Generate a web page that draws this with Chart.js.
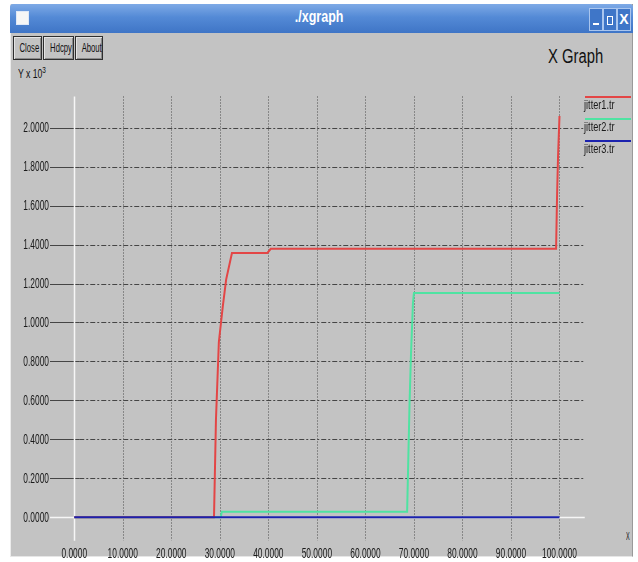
<!DOCTYPE html>
<html>
<head>
<meta charset="utf-8">
<title>./xgraph</title>
<script src="https://cdn.jsdelivr.net/npm/chart.js@4.4.1/dist/chart.umd.min.js"></script>
<style>
  html, body { margin: 0; padding: 0; width: 638px; height: 562px; overflow: hidden; background: #ffffff;
    font-family: "Liberation Sans", Arial, sans-serif; }
  .abs { position: absolute; }
  #win { left: 10px; top: 4px; width: 623px; height: 553px; background: #c3c3c3;
    border-left: 1px solid #ececec; border-right: 1px solid #9a9a9a; border-bottom: 1px solid #e6e6e6; box-sizing: border-box; }
  #titlebar { left: 10px; top: 4px; width: 623px; height: 29px; border-radius: 3px 3px 0 0;
    background: linear-gradient(#7eaae6, #548ad6 45%, #3f75c6); }
  #ticon { left: 16px; top: 11px; width: 11px; height: 12px; background: #f6f6f6; border: 1px solid #dfe8f6; }
  #ttext { left: 0; top: 8px; width: 638px; text-align: center; color: #ffffff; font-weight: bold; font-size: 16px; }
  #ttext span { display: inline-block; transform: scaleX(0.78); transform-origin: 50% 50%; }
  .wbtn { top: 8px; width: 12px; height: 21px; border: 1px solid #a9c5ee; background-color: #3f76c8; }
  .wbar { position: absolute; background-color: #ffffff; }
  .btn { top: 36px; height: 24px; box-sizing: border-box; border: 1px solid #2e2e2e;
    box-shadow: inset 1px 1px 0 #e4e4e4, inset -1px -1px 0 #8a8a8a; background: #c3c3c3;
    font-size: 12px; color: #111; text-align: center; line-height: 22px; overflow: hidden; }
  .btn span { display: inline-block; transform: scaleX(0.64); transform-origin: 50% 50%; }
  #gtitle { left: 548px; top: 45px; font-size: 20px; color: #111; white-space: nowrap; }
  #gtitle span { display: inline-block; transform: scaleX(0.74); transform-origin: 0 50%; }
  #ylab { left: 18px; top: 65px; font-size: 12px; color: #111; white-space: nowrap; }
  #ylab span { display: inline-block; transform: scaleX(0.72); transform-origin: 0 50%; }
  #xlab { left: 626px; top: 530px; font-size: 11px; color: #111; }
  #xlab span { display: inline-block; transform: scaleX(0.5); transform-origin: 0 50%; }
  #plot { left: 0; top: 0; }
</style>
</head>
<body>
<div id="win" class="abs"></div>
<div id="titlebar" class="abs"></div>
<div id="ticon" class="abs"></div>
<div id="ttext" class="abs"><span>./xgraph</span></div>
<!-- minimise / maximise / close -->
<div class="abs wbtn" style="left:589px"><div class="wbar" style="left:3px;top:14px;width:6px;height:2px"></div></div>
<div class="abs wbtn" style="left:603px"><div class="wbar" style="left:3px;top:7px;width:4px;height:7px;background:none;border:1px solid #fff"></div></div>
<div class="abs wbtn" style="left:617px;color:#fff;font:bold 14px 'Liberation Sans',Arial,sans-serif;text-align:center;line-height:21px">X</div>
<div class="abs btn" style="left:13px;width:29px"><span>Close</span></div>
<div class="abs btn" style="left:43px;width:31px"><span>Hdcpy</span></div>
<div class="abs btn" style="left:75px;width:28px"><span>About</span></div>
<div id="gtitle" class="abs"><span>X Graph</span></div>
<div id="ylab" class="abs"><span>Y x 10<sup style="font-size:9px">3</sup></span></div>
<div id="xlab" class="abs"><span>X</span></div>
<canvas id="plot" class="abs" width="638" height="562"></canvas>

<script>
// Axis tick values (x: simulation time, y: jitter in units of 10^3)
const xTicks = [0, 10, 20, 30, 40, 50, 60, 70, 80, 90, 100];
const yTicks = [0, 0.2, 0.4, 0.6, 0.8, 1.0, 1.2, 1.4, 1.6, 1.8, 2.0];

// Trace names
const seriesNames = ['jitter1.tr', 'jitter2.tr', 'jitter3.tr'];

// jitter1.tr
const jitter1Time  = [0, 28.8, 29.2, 29.8, 30.6, 31.3, 32.5, 39.8, 40.5, 99.3, 99.5, 99.7, 100.0];
const jitter1Value = [0, 0, 0.50, 0.90, 1.08, 1.22, 1.357, 1.357, 1.378, 1.378, 1.65, 1.85, 2.06];

// jitter2.tr
const jitter2Time  = [0, 30.2, 30.4, 68.6, 69.1, 69.4, 69.8, 70.0, 100.0];
const jitter2Value = [0, 0, 0.028, 0.028, 0.586, 0.84, 1.10, 1.152, 1.152];

// jitter3.tr
const jitter3Time  = [0, 100.0];
const jitter3Value = [0, 0];

const colors = ['#e34646', '#4fe3a2', '#1b22ae'];

function zip(xs, ys) { return xs.map((x, i) => ({ x: x, y: ys[i] })); }

function squish(ctx, text, x, y, align, sx) {
  ctx.save();
  ctx.translate(x, y);
  ctx.scale(sx, 1);
  ctx.textAlign = align;
  ctx.fillText(text, 0, 0);
  ctx.restore();
}

function seg(ctx, x1, y1, x2, y2) {
  ctx.beginPath(); ctx.moveTo(x1, y1); ctx.lineTo(x2, y2); ctx.stroke();
}

// xgraph-style grid, axes, tick labels and legend
const xgraphFrame = {
  id: 'xgraphFrame',
  beforeDatasetsDraw(chart) {
    const { ctx, chartArea: a, scales: { x, y } } = chart;
    const x0 = x.getPixelForValue(0);
    const y0 = y.getPixelForValue(0);
    ctx.save();
    ctx.lineWidth = 1;
    // horizontal grid lines
    y.ticks.forEach(t => {
      if (t.value === 0) return;
      const py = Math.round(y.getPixelForValue(t.value)) + 0.5;
      ctx.strokeStyle = '#454545';
      ctx.setLineDash([]);
      seg(ctx, a.left, py, x0 + 5, py);
      ctx.setLineDash([5, 2, 2, 2]);
      seg(ctx, x0 + 5, py, a.right, py);
    });
    // vertical grid lines
    ctx.strokeStyle = '#4a4a4a';
    ctx.setLineDash([1, 2]);
    x.ticks.forEach(t => {
      if (t.value === 0) return;
      const px = Math.round(x.getPixelForValue(t.value)) + 0.5;
      seg(ctx, px, a.top, px, a.bottom);
    });
    // zero axes
    ctx.setLineDash([]);
    ctx.strokeStyle = '#f6f6f6';
    ctx.lineWidth = 1.5;
    seg(ctx, Math.round(x0) + 0.5, a.top, Math.round(x0) + 0.5, a.bottom);
    seg(ctx, a.left, Math.round(y0) + 0.5, a.right + 1, Math.round(y0) + 0.5);
    ctx.restore();
  },
  afterDraw(chart) {
    const { ctx, chartArea: a, scales: { x, y } } = chart;
    ctx.save();
    ctx.fillStyle = '#1a1a1a';
    ctx.font = '14px "Liberation Sans", Arial, sans-serif';
    ctx.textBaseline = 'middle';
    y.ticks.forEach(t => {
      squish(ctx, t.value.toFixed(4), a.left - 1, y.getPixelForValue(t.value) + 0.5, 'right', 0.6);
    });
    ctx.textBaseline = 'top';
    x.ticks.forEach(t => {
      squish(ctx, t.value.toFixed(4), x.getPixelForValue(t.value), a.bottom + 6, 'center', 0.6);
    });
    // legend: coloured line above each trace name
    ctx.font = '13.5px "Liberation Sans", Arial, sans-serif';
    ctx.textBaseline = 'middle';
    chart.data.datasets.forEach((ds, i) => {
      const ly = 97 + i * 22;
      ctx.strokeStyle = ds.borderColor;
      ctx.lineWidth = 2;
      seg(ctx, 585, ly, 631, ly);
      ctx.fillStyle = '#1a1a1a';
      squish(ctx, ds.label, 584, ly + 8.5, 'left', 0.68);
    });
    ctx.restore();
  }
};

new Chart(document.getElementById('plot'), {
  type: 'line',
  data: {
    datasets: [
      { label: seriesNames[0], data: zip(jitter1Time, jitter1Value), borderColor: colors[0], order: 1 },
      { label: seriesNames[1], data: zip(jitter2Time, jitter2Value), borderColor: colors[1], order: 2 },
      { label: seriesNames[2], data: zip(jitter3Time, jitter3Value), borderColor: colors[2], order: 0 }
    ]
  },
  options: {
    responsive: false,
    animation: false,
    devicePixelRatio: 1,
    elements: {
      point: { radius: 0 },
      line: { borderWidth: 2, tension: 0, fill: false }
    },
    layout: { padding: { top: 96.5, right: 54.25, bottom: 6.3, left: 0 } },
    plugins: { legend: { display: false }, tooltip: { enabled: false } },
    scales: {
      x: {
        type: 'linear', min: -5, max: 105,
        afterBuildTicks: s => { s.ticks = xTicks.map(v => ({ value: v })); },
        afterFit: s => { s.height = 15; },
        ticks: { display: false },
        grid: { display: false },
        border: { display: false }
      },
      y: {
        type: 'linear', min: -0.12, max: 2.16,
        afterBuildTicks: s => { s.ticks = yTicks.map(v => ({ value: v })); },
        afterFit: s => { s.width = 50; },
        ticks: { display: false },
        grid: { display: false },
        border: { display: false }
      }
    }
  },
  plugins: [xgraphFrame]
});
</script>
</body>
</html>
